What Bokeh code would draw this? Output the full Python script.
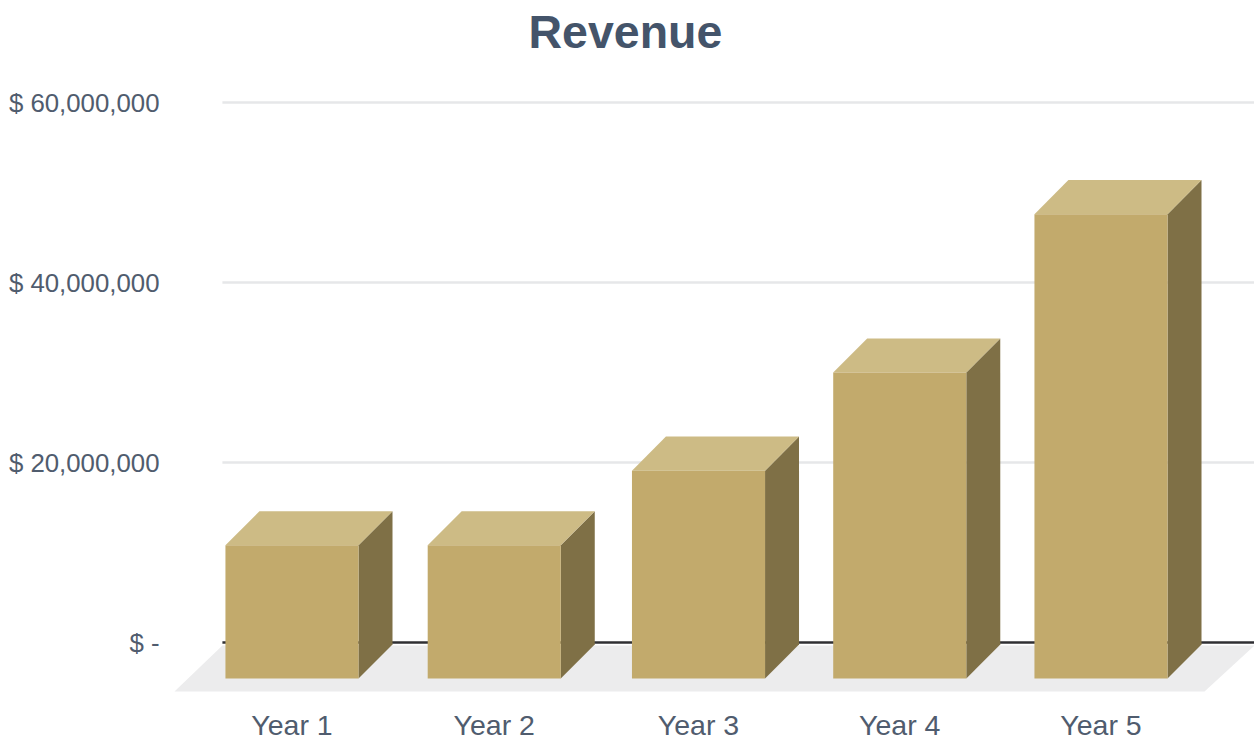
from bokeh.plotting import figure
from bokeh.embed import file_html
from bokeh.resources import INLINE
from bokeh.models import Range1d, FixedTicker

title_text = "Revenue"
categories = ["Year 1", "Year 2", "Year 3", "Year 4", "Year 5"]
revenue = [14_800_000, 14_800_000, 23_100_000, 34_000_000, 51_600_000]
y_ticks = [0, 20_000_000, 40_000_000, 60_000_000]
y_labels = ["$ -", "$ 20,000,000", "$ 40,000,000", "$ 60,000,000"]

FRONT, TOP, SIDE = "#c2aa6c", "#cdbb85", "#7f7046"
TEXT = "#505c6e"
HALF = 0.329
DX = 0.168
DY = 3_780_000
BASE = -4_000_000
X0, X1 = -0.6254, 4.759
CENTERS = [0, 1, 2.01, 3.005, 4]

p = figure(width=1254, height=739, output_backend="svg", toolbar_location=None,
           x_range=Range1d(X0, X1), y_range=Range1d(-6_440_000, 64_670_000),
           frame_width=1089, frame_height=640,
           min_border_left=165, min_border_right=0, min_border_top=60, min_border_bottom=39,
           outline_line_color=None, background_fill_color="white", border_fill_color="white")
p.grid.visible = False

# gridlines (starting to the right of the floor's left corner)
GX = -0.344
grid_vals = y_ticks[1:]
p.segment([GX] * 3, grid_vals, [X1] * 3, grid_vals, line_color="#e6e7e9", line_width=2.5)

# floor
FLOOR_TOP, FLOOR_BOTTOM = -330_000, -5_440_000
p.patch([-0.581, 4.512, X1, GX], [FLOOR_BOTTOM, FLOOR_BOTTOM, FLOOR_TOP, FLOOR_TOP],
        fill_color="#ececed", line_color=None)
p.segment([GX], [y_ticks[0]], [X1], [y_ticks[0]], line_color="#2f2f33", line_width=2.5)

# 3D bars
xs_front, ys_front, xs_top, ys_top, xs_side, ys_side = [], [], [], [], [], []
for c, v in zip(CENTERS, revenue):
    l, r, t = c - HALF, c + HALF, BASE + v
    xs_front.append([l, r, r, l]); ys_front.append([BASE, BASE, t, t])
    xs_top.append([l, r, r + DX, l + DX]); ys_top.append([t, t, t + DY, t + DY])
    xs_side.append([r, r + DX, r + DX, r]); ys_side.append([BASE, BASE + DY, t + DY, t])
p.patches(xs_side, ys_side, fill_color=SIDE, line_color=None)
p.patches(xs_top, ys_top, fill_color=TOP, line_color=None)
p.patches(xs_front, ys_front, fill_color=FRONT, line_color=None)

# axes
p.yaxis.ticker = FixedTicker(ticks=y_ticks)
p.yaxis.major_label_overrides = dict(zip(y_ticks, y_labels))
p.xaxis.ticker = FixedTicker(ticks=CENTERS)
p.xaxis.major_label_overrides = dict(zip(CENTERS, categories))
for ax, size, standoff in ((p.yaxis, "25.8px", 0), (p.xaxis, "28.5px", 2)):
    ax.axis_line_color = None
    ax.major_tick_line_color = None
    ax.minor_tick_line_color = None
    ax.major_label_text_color = TEXT
    ax.major_label_text_font = "Liberation Sans"
    ax.major_label_text_font_size = size
    ax.major_label_standoff = standoff

# title
p.title.text = title_text
p.title.align = "left"
p.title.offset = 363
p.title.standoff = 6
p.title.text_font = "Liberation Sans"
p.title.text_font_style = "bold"
p.title.text_font_size = "46.5px"
p.title.text_color = "#44546a"

open("out.html", "w").write(file_html(p, INLINE))
